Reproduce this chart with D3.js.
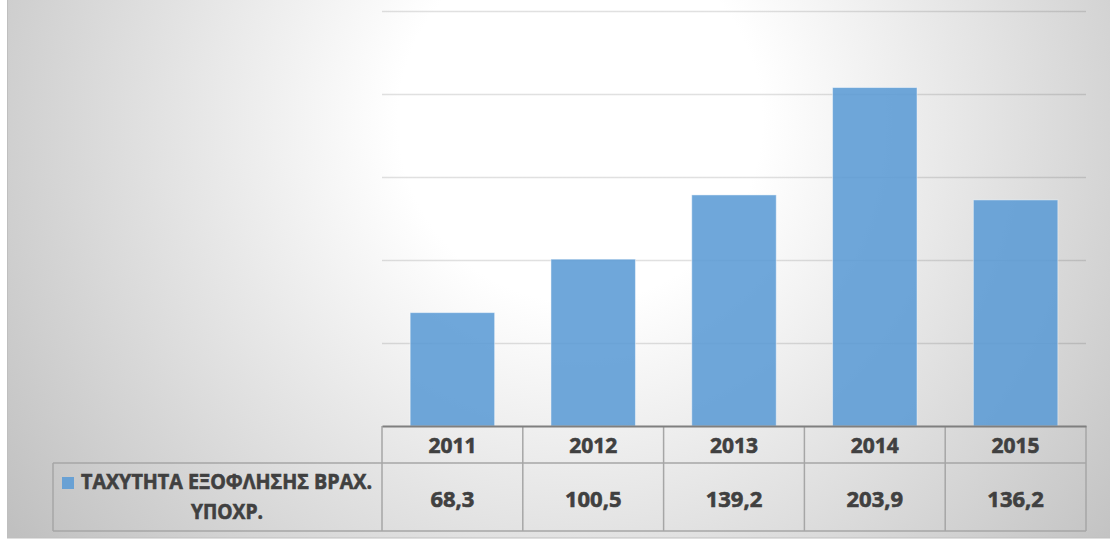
<!DOCTYPE html>
<html>
<head>
<meta charset="utf-8">
<script src="https://cdn.jsdelivr.net/npm/d3@7"></script>
<style>
  html, body { margin: 0; padding: 0; background: #ffffff; }
  svg { display: block; }
  text {
    font-family: "Open Sans", "Noto Sans", sans-serif; font-weight: 700;
    fill: #404040; stroke: #404040; stroke-width: 0.6px; paint-order: stroke;
  }
</style>
</head>
<body>
<svg id="chart" width="1110" height="543"></svg>
<script>
// Short-term liabilities repayment speed, per year
const years = ["2011", "2012", "2013", "2014", "2015"];
const values = [68.3, 100.5, 139.2, 203.9, 136.2];
const gridTicks = [50, 100, 150, 200, 250];
const seriesLines = ["ΤΑΧΥΤΗΤΑ ΕΞΟΦΛΗΣΗΣ ΒΡΑΧ.", "ΥΠΟΧΡ."];

const W = 1110, H = 543;
const plot = { left: 382, right: 1086, top: 11, bottom: 426 };
const table = { headerBottom: 463, bottom: 531, legendLeft: 53 };
const barColor = "#5b9bd5";

// Greek number format: comma as decimal separator
const fmt = d3.formatLocale({ decimal: ",", thousands: ".", grouping: [3], currency: ["", "€"] }).format(".1f");

const svg = d3.select("#chart");
const defs = svg.append("defs");

// Chart area: soft radial shading, white near the upper middle
const bg = defs.append("radialGradient")
  .attr("id", "areaFill")
  .attr("gradientUnits", "userSpaceOnUse")
  .attr("cx", 580).attr("cy", 120).attr("r", 700);
bg.append("stop").attr("offset", 0).attr("stop-color", "#ffffff");
bg.append("stop").attr("offset", 0.26).attr("stop-color", "#ffffff");
bg.append("stop").attr("offset", 1).attr("stop-color", "#c0c0c0");

// Gridlines fade out toward the top
const gg = defs.append("linearGradient")
  .attr("id", "gridStroke")
  .attr("gradientUnits", "userSpaceOnUse")
  .attr("x1", 0).attr("y1", plot.top).attr("x2", 0).attr("y2", 343);
gg.append("stop").attr("offset", 0).attr("stop-color", "#000").attr("stop-opacity", 0.12);
gg.append("stop").attr("offset", 1).attr("stop-color", "#000").attr("stop-opacity", 0.38);

svg.append("rect")
  .attr("x", 7.5).attr("y", -5)
  .attr("width", W).attr("height", 543)
  .attr("fill", "url(#areaFill)")
  .attr("stroke", "#bfbfbf").attr("stroke-width", 1);

const x = d3.scaleBand()
  .domain(years)
  .range([plot.left, plot.right])
  .paddingInner(0.4)
  .paddingOuter(0.2);
const step = x.step();

const y = d3.scaleLinear()
  .domain([0, 250])
  .range([plot.bottom, plot.top]);

// Horizontal gridlines
const grid = svg.append("g")
  .attr("transform", `translate(${plot.left},0)`)
  .call(d3.axisLeft(y).tickValues(gridTicks).tickSize(-(plot.right - plot.left)).tickFormat(""));
grid.select(".domain").remove();
grid.selectAll(".tick line")
  .attr("stroke", "url(#gridStroke)")
  .attr("stroke-width", 1.4);

// Columns
svg.append("g")
  .selectAll("rect")
  .data(years)
  .join("rect")
  .attr("x", d => x(d))
  .attr("width", x.bandwidth())
  .attr("y", (d, i) => y(values[i]))
  .attr("height", (d, i) => y(0) - y(values[i]))
  .attr("fill", barColor)
  .attr("fill-opacity", 0.88)
  .attr("stroke", "#ffffff")
  .attr("stroke-opacity", 0.45)
  .attr("stroke-width", 1);

// Data table under the plot
const tbl = svg.append("g");
const lineColor = "#a6a6a6";
const colEdges = d3.range(years.length + 1).map(i => plot.left + i * step);

// vertical rules
tbl.selectAll("line.col")
  .data(colEdges)
  .join("line")
  .attr("class", "col")
  .attr("x1", d => d).attr("x2", d => d)
  .attr("y1", plot.bottom).attr("y2", table.bottom)
  .attr("stroke", lineColor).attr("stroke-width", 1.5);

// horizontal rules
tbl.append("line")
  .attr("x1", table.legendLeft).attr("x2", plot.right)
  .attr("y1", table.headerBottom).attr("y2", table.headerBottom)
  .attr("stroke", lineColor).attr("stroke-width", 1.5);
tbl.append("line")
  .attr("x1", table.legendLeft).attr("x2", plot.right)
  .attr("y1", table.bottom).attr("y2", table.bottom)
  .attr("stroke", lineColor).attr("stroke-width", 1.5);
tbl.append("line")
  .attr("x1", table.legendLeft).attr("x2", table.legendLeft)
  .attr("y1", table.headerBottom).attr("y2", table.bottom)
  .attr("stroke", lineColor).attr("stroke-width", 1.5);

// category axis line along the base of the columns
const xAxis = svg.append("g")
  .attr("transform", `translate(0,${plot.bottom})`)
  .call(d3.axisBottom(x).tickSize(0).tickSizeOuter(0).tickFormat(""));
xAxis.select(".domain").attr("stroke", "#7f7f7f").attr("stroke-width", 2.2);

// header row: years
tbl.selectAll("text.year")
  .data(years)
  .join("text")
  .attr("class", "year")
  .attr("x", d => x(d) + x.bandwidth() / 2)
  .attr("y", 453)
  .attr("text-anchor", "middle")
  .attr("font-size", 22)
  .attr("textLength", 48)
  .attr("lengthAdjust", "spacingAndGlyphs")
  .text(d => d);

// value row
tbl.selectAll("text.val")
  .data(years)
  .join("text")
  .attr("class", "val")
  .attr("x", d => x(d) + x.bandwidth() / 2)
  .attr("y", 506.5)
  .attr("text-anchor", "middle")
  .attr("font-size", 22)
  .text((d, i) => fmt(values[i]));

// series key in the table's first column
tbl.append("rect")
  .attr("x", 62).attr("y", 477)
  .attr("width", 12).attr("height", 12)
  .attr("fill", barColor).attr("fill-opacity", 0.88);

tbl.append("text")
  .attr("x", 81).attr("y", 489)
  .attr("font-size", 20.5)
  .attr("textLength", 291)
  .attr("lengthAdjust", "spacingAndGlyphs")
  .text(seriesLines[0]);

tbl.append("text")
  .attr("x", 227).attr("y", 519)
  .attr("text-anchor", "middle")
  .attr("font-size", 20.5)
  .attr("textLength", 72)
  .attr("lengthAdjust", "spacingAndGlyphs")
  .text(seriesLines[1]);
</script>
</body>
</html>
